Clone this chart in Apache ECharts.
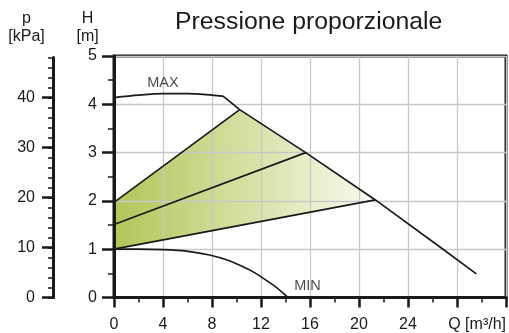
<!DOCTYPE html>
<html>
<head>
<meta charset="utf-8">
<script src="https://cdn.jsdelivr.net/npm/echarts@6/dist/echarts.min.js"></script>
<style>
html,body{margin:0;padding:0;background:#fff;}
#chart{width:509px;height:333px;}
</style>
</head>
<body>
<div id="chart"></div>
<script>
// ---- data ----
const chartTitle = 'Pressione proporzionale';
const qTickLabels = ['0', '4', '8', '12', '16', '20', '24'];
const qAxisLabel = 'Q [m³/h]';
const hTickLabels = ['0', '1', '2', '3', '4', '5'];
const pTickLabels = ['0', '10', '20', '30', '40'];

// MAX curve: smooth upper part, then straight descending limit line
const maxCurveQ = [0, 2, 4, 6, 8, 8.9];
const maxCurveH = [4.14, 4.19, 4.22, 4.22, 4.19, 4.17];
const maxLineQ = [8.9, 10.26, 15.65, 21.34, 26.86, 29.58];
const maxLineH = [4.17, 3.89, 3.0, 2.02, 1.0, 0.49];

// MIN curve
const minCurveQ = [0, 2, 4, 5.9, 7.8, 9.3, 10.5, 11.5, 12.4, 13.3, 14.2];
const minCurveH = [1.0, 1.0, 0.99, 0.96, 0.88, 0.77, 0.64, 0.51, 0.36, 0.2, 0];

// proportional pressure lines (start at Q=0, end on the MAX line)
const propStartH = [1.97, 1.51, 1.0];
const propEndQ = [10.26, 15.65, 21.34];
const propEndH = [3.89, 3.0, 2.02];

// curve labels
const curveLabelNames = ['MAX', 'MIN'];
const curveLabelQ = [4.0, 15.8];
const curveLabelH = [4.45, 0.23];

// ---- build ----
const zip = (a, b) => a.map((v, i) => [v, b[i]]);
const FONT = '"Liberation Sans", Arial, Helvetica, sans-serif';
const INK = '#1a1a1a';

// fill polygon: top prop line -> along MAX line -> bottom prop line back to Q=0
const fillPoly = [[0, propStartH[0]]];
maxLineQ.forEach((q, i) => {
  if (q >= propEndQ[0] - 1e-9 && q <= propEndQ[2] + 1e-9) fillPoly.push([q, maxLineH[i]]);
});
fillPoly.push([0, propStartH[2]]);

const chart = echarts.init(document.getElementById('chart'), null, {renderer: 'canvas'});

const lineStyleFn = () => ({color: INK, width: 1.7});

const series = [
  {
    type: 'custom',
    xAxisIndex: 0, yAxisIndex: 0,
    z: -1,
    silent: true,
    data: [[0, 0]],
    renderItem: function (params, api) {
      const pts = fillPoly.map(p => api.coord(p));
      return {
        type: 'polygon',
        shape: {points: pts},
        style: {
          fill: new echarts.graphic.LinearGradient(0, 0, 1, 0, [
            {offset: 0, color: '#b0c758'},
            {offset: 0.55, color: '#d8e3aa'},
            {offset: 1, color: '#fafcf1'}
          ]),
          stroke: null
        }
      };
    }
  },
  {type: 'line', data: zip(maxCurveQ, maxCurveH), smooth: 0.3, symbol: 'none', lineStyle: lineStyleFn(), z: 5},
  {type: 'line', data: zip(maxLineQ, maxLineH), symbol: 'none', lineStyle: lineStyleFn(), z: 5},
  {type: 'line', data: zip(minCurveQ, minCurveH), smooth: 0.3, symbol: 'none', lineStyle: lineStyleFn(), z: 5}
];
propStartH.forEach((h, i) => {
  series.push({type: 'line', data: [[0, h], [propEndQ[i], propEndH[i]]], symbol: 'none', lineStyle: lineStyleFn(), z: 5});
});
series.push({
  type: 'scatter',
  symbolSize: 0,
  data: curveLabelNames.map((n, i) => [curveLabelQ[i], curveLabelH[i], n]),
  label: {show: true, position: 'inside', formatter: p => p.value[2], fontSize: 14.5, color: INK, fontFamily: FONT},
  z: 6
});

const option = {
  animation: false,
  textStyle: {fontFamily: FONT},
  title: {
    text: chartTitle, left: 175, top: 10, padding: 0,
    textStyle: {fontSize: 24.8, fontWeight: 'normal', color: INK, fontFamily: FONT}
  },
  grid: [
    {left: 114, right: 3, top: 56, bottom: 35.5, show: true, borderColor: INK, borderWidth: 3, backgroundColor: 'transparent'},
    {left: 53, width: 20, top: 57.5, bottom: 35.5},
    {left: 53, width: 20, top: 97.5, bottom: 35.5}
  ],
  xAxis: [
    {
      type: 'value', gridIndex: 0, min: 0, max: 32, interval: 4,
      axisLine: {lineStyle: {color: INK, width: 3}},
      axisTick: {length: 10, lineStyle: {color: INK, width: 2.5}},
      minorTick: {show: true, splitNumber: 2, length: 5, lineStyle: {color: INK, width: 1.5}},
      splitLine: {show: true, lineStyle: {color: '#c8c8c8', width: 1.3}},
      axisLabel: {
        fontSize: 16, color: INK, margin: 19, fontFamily: FONT,
        formatter: v => { const i = Math.round(v / 4); return i < qTickLabels.length ? qTickLabels[i] : ''; }
      }
    },
    {type: 'value', gridIndex: 1, show: false, min: 0, max: 1},
    {type: 'value', gridIndex: 2, show: false, min: 0, max: 1}
  ],
  yAxis: [
    {
      type: 'value', gridIndex: 0, min: 0, max: 5, interval: 1,
      axisLine: {show: true, lineStyle: {color: INK, width: 3}},
      axisTick: {show: true, length: 12, lineStyle: {color: INK, width: 2.5}},
      minorTick: {show: true, splitNumber: 2, length: 6, lineStyle: {color: INK, width: 1.5}},
      splitLine: {show: true, lineStyle: {color: '#c8c8c8', width: 1.3}},
      axisLabel: {fontSize: 16, color: INK, margin: 17, fontFamily: FONT, formatter: v => hTickLabels[Math.round(v)]}
    },
    {
      type: 'value', gridIndex: 1, min: 0, max: 48, interval: 2,
      axisLine: {show: true, lineStyle: {color: INK, width: 3}},
      axisTick: {show: true, length: 5, lineStyle: {color: INK, width: 1.5}},
      axisLabel: {show: false},
      splitLine: {show: false}
    },
    {
      type: 'value', gridIndex: 2, min: 0, max: 40, interval: 10,
      axisLine: {show: true, lineStyle: {color: INK, width: 3}},
      axisTick: {show: true, length: 11, lineStyle: {color: INK, width: 2.5}},
      axisLabel: {fontSize: 16, color: INK, margin: 18, fontFamily: FONT, formatter: v => pTickLabels[Math.round(v / 10)]},
      splitLine: {show: false}
    }
  ],
  graphic: [
    {type: 'text', x: 26.5, y: 18.7, style: {text: 'p', font: '16px ' + FONT, fill: INK, align: 'center', verticalAlign: 'middle'}},
    {type: 'text', x: 26.5, y: 36.2, style: {text: '[kPa]', font: '16px ' + FONT, fill: INK, align: 'center', verticalAlign: 'middle'}},
    {type: 'text', x: 87.6, y: 18.7, style: {text: 'H', font: '16px ' + FONT, fill: INK, align: 'center', verticalAlign: 'middle'}},
    {type: 'text', x: 87.6, y: 36.2, style: {text: '[m]', font: '16px ' + FONT, fill: INK, align: 'center', verticalAlign: 'middle'}},
    {type: 'text', x: 506, y: 325, style: {text: qAxisLabel, font: '16px ' + FONT, fill: INK, align: 'right', verticalAlign: 'middle'}}
  ],
  series: series
};
chart.setOption(option);
</script>
</body>
</html>
